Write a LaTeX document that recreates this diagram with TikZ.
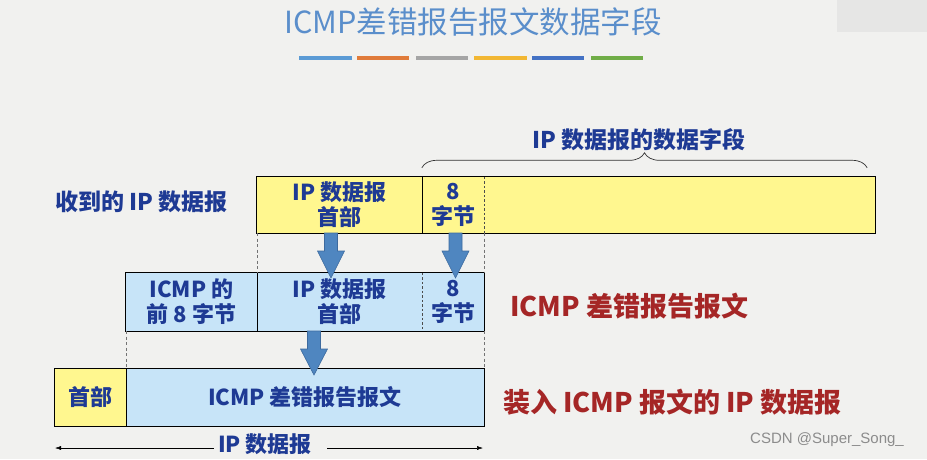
\documentclass[tikz,border=0pt]{standalone}
\usepackage{fontspec}
\setmainfont{Noto Sans CJK SC}
\newfontfamily\wmfont{Liberation Sans}
\usetikzlibrary{decorations.pathreplacing,calc,arrows.meta}
\definecolor{bgc}{HTML}{F1F1EF}
\definecolor{bgpatch}{HTML}{E6E6E5}
\definecolor{dblue}{HTML}{1E3A94}
\definecolor{dred}{HTML}{A52626}
\definecolor{ttl}{HTML}{5A8ECB}
\definecolor{yfill}{HTML}{FFF78F}
\definecolor{bfill}{HTML}{C7E4F8}
\definecolor{arrfill}{HTML}{4F86C0}
\definecolor{arrline}{HTML}{3D6A9E}
\definecolor{barA}{HTML}{5B9BD5}
\definecolor{barB}{HTML}{E07B3A}
\definecolor{barC}{HTML}{A5A5A5}
\definecolor{barD}{HTML}{F2B733}
\definecolor{barE}{HTML}{4472C4}
\definecolor{barF}{HTML}{70AD47}
\newcommand\blkarrow[4]{\filldraw[blk] (#1-6.5,#2) -- (#1+6.5,#2) -- (#1+6.5,#3) -- (#1+13.5,#3) -- (#1,#4) -- (#1-13.5,#3) -- (#1-6.5,#3) -- cycle;}
\begin{document}
\begin{tikzpicture}[x=1pt,y=-1pt,
  cell/.style={inner sep=0pt, text=dblue, align=center, font=\fontsize{22}{25}\selectfont\bfseries},
  ycell/.style={cell, fill=yfill},
  bcell/.style={cell, fill=bfill},
  box/.style={draw=black, line width=0.8pt},
  dashsep/.style={draw=black!70, line width=0.5pt, dash pattern=on 2.5pt off 2pt},
  guide/.style={draw=black!55, line width=0.5pt, dash pattern=on 3pt off 2.5pt},
  blk/.style={fill=arrfill, draw=arrline, line width=0.6pt},
  lbl/.style={inner sep=0pt, text=dblue, font=\fontsize{23}{26}\selectfont\bfseries},
  redlbl/.style={inner sep=0pt, text=dred, font=\fontsize{27}{30}\selectfont\bfseries},
  brc/.style={draw=black!80, line width=0.7pt, decorate, decoration={brace, amplitude=15pt}},
  dimarr/.style={draw=black, line width=0.5pt, -{Latex[length=6pt,width=4pt]}},
  title/.style={inner sep=0pt, text=ttl, font=\fontsize{30.5}{34}\selectfont},
  wm/.style={inner sep=0pt, text=black!45, font=\wmfont\fontsize{15}{17}\selectfont}
]
\fill[bgc] (0,0) rectangle (927,459);
\useasboundingbox (0,0) rectangle (927,459);
\fill[bgpatch] (837,0) rectangle (927,32);

% title and colour bars
\node[title] (title) at (473,22) {ICMP差错报告报文数据字段};
\fill[barA] (299,55.5) rectangle (352,59.5);
\fill[barB] (357,55.5) rectangle (409,59.5);
\fill[barC] (416,55.5) rectangle (468,59.5);
\fill[barD] (474,55.5) rectangle (527,59.5);
\fill[barE] (532,55.5) rectangle (584,59.5);
\fill[barF] (591,55.5) rectangle (643,59.5);

% row 1: received IP datagram
\node[ycell, minimum width=165pt, minimum height=56pt] (r1a) at (339.5,205) {IP 数据报\\首部};
\node[ycell, minimum width=62pt, minimum height=56pt] (r1b) at (453,205) {8\\字节};
\node[ycell, minimum width=391pt, minimum height=56pt] (r1c) at (679.5,205) {};
\draw[box] (r1a.north west) rectangle (r1c.south east);
\draw[box] (r1a.north east) -- (r1a.south east);
\draw[dashsep] (r1b.north east) -- (r1b.south east);
\node[lbl, anchor=west] (recv) at (55,202) {收到的 IP 数据报};
\draw[brc] ($(r1b.north west)+(0,-9)$) -- ($(r1c.north east)+(-8,-9)$);
\node[lbl] (brlbl) at (639,140) {IP 数据报的数据字段};

% row 2: ICMP error message
\node[bcell, minimum width=131pt, minimum height=58pt] (r2a) at (191.5,302) {ICMP 的\\前 8 字节};
\node[bcell, minimum width=165pt, minimum height=58pt] (r2b) at (339.5,302) {IP 数据报\\首部};
\node[bcell, minimum width=62pt, minimum height=58pt] (r2c) at (453,302) {8\\字节};
\draw[box] (r2a.north west) rectangle (r2c.south east);
\draw[box] (r2a.north east) -- (r2a.south east);
\draw[dashsep] (r2b.north east) -- (r2b.south east);
\node[redlbl, anchor=west] (lab2) at (510,306) {ICMP 差错报告报文};

% row 3: IP datagram carrying ICMP
\node[ycell, minimum width=71pt, minimum height=57pt] (r3a) at (90.5,397.5) {首部};
\node[bcell, minimum width=358pt, minimum height=57pt] (r3b) at (305,397.5) {ICMP 差错报告报文};
\draw[box] (r3a.north west) rectangle (r3b.south east);
\draw[box] (r3a.north east) -- (r3a.south east);
\node[redlbl, anchor=west] (lab3) at (503,402) {装入 ICMP 报文的 IP 数据报};

% dashed guide lines
\draw[guide] (r1a.south west) -- (r2b.north west);
\draw[guide] (r1b.south east) -- (r2c.north east);
\draw[guide] (r2a.south west) -- (r3b.north west);
\draw[guide] (r2c.south east) -- (r3b.north east);

% block arrows
\blkarrow{331}{233}{251}{278}
\blkarrow{455.5}{233}{251}{278}
\blkarrow{314}{331}{349}{375}

% length arrow
\node[cell] (iplen) at (265,444) {IP 数据报};
\coordinate (bl) at (55,448);
\coordinate (br) at (483,448);
\coordinate (bml) at ([xshift=-4pt]iplen.west);
\coordinate (bmr) at ([xshift=15pt]iplen.east);
\draw[dimarr] (bml |- bl) -- (bl);
\draw[dimarr] (bmr |- br) -- (br);

\node[wm, anchor=west] (wm) at (750,440) {CSDN @Super\_Song\_};
\end{tikzpicture}
\end{document}
